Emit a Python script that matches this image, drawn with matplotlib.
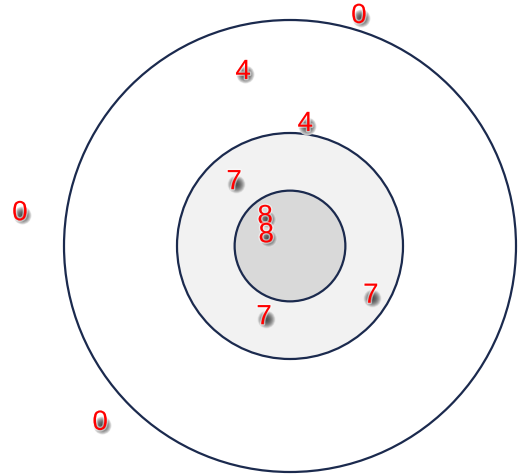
import numpy as np
import matplotlib.pyplot as plt
import matplotlib.patheffects as pe
from matplotlib.patches import Circle

# target rings (radius, fill)
ring_radii = [4.0, 2.0, 0.98]
ring_fills = ['#ffffff', '#f2f2f2', '#d9d9d9']

# shots: x, y and score
shot_x = [1.22, -0.83, 0.27, -0.99, -0.44, -0.42, 1.43, -0.46, -4.78, -3.36]
shot_y = [4.07, 3.08, 2.16, 1.13, 0.51, 0.19, -0.88, -1.26, 0.58, -3.13]
shot_score = ['0', '4', '4', '7', '8', '8', '7', '7', '0', '0']

fig = plt.figure(figsize=(5.18, 4.77), dpi=100)
ax = fig.add_axes([0, 0, 1, 1])

for r, fc in zip(ring_radii, ring_fills):
    ax.add_patch(Circle((0, 0), r, facecolor=fc, edgecolor='#1b2a4e', lw=1.6, zorder=1))

# gray dots with a soft radial look
sizes = np.linspace(170, 8, 14)
greys = np.linspace(0.9, 0.3, 14)
for s, g in zip(sizes, greys):
    ax.scatter(np.array(shot_x) + 0.03, np.array(shot_y) - 0.04, s=s, color=(g, g, g),
               alpha=0.6, lw=0, zorder=2)

for x, y, t in zip(shot_x, shot_y, shot_score):
    ax.text(x, y, t, color='red', fontsize=20, ha='center', va='center', zorder=3,
            fontfamily='Liberation Sans',
            path_effects=[pe.withStroke(linewidth=2, foreground='white', alpha=0.5)])

ax.set_xlim(-290 / 56.5, 228 / 56.5)
ax.set_ylim(-230 / 56.5, 247 / 56.5)
ax.set_aspect('equal')
ax.axis('off')

fig.savefig('out.png', dpi=100)
